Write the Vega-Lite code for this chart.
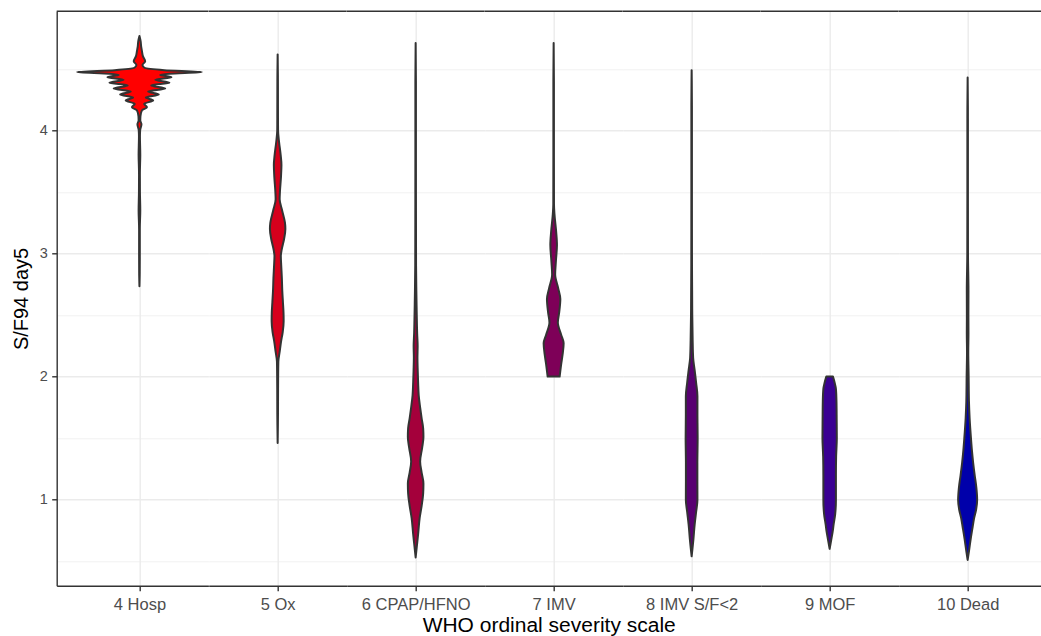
{
  "$schema": "https://vega.github.io/schema/vega-lite/v6.json",
  "background": "white",
  "padding": {"left": 10.7, "top": 10.3, "right": 0, "bottom": 0},
  "spacing": 0,
  "bounds": "flush",
  "config": {
    "view": {"stroke": null},
    "font": "Liberation Sans",
    "axis": {"gridColor": "#EBEBEB", "domainColor": "#333333", "tickColor": "#333333", "labelColor": "#4D4D4D", "titleColor": "#000000", "titleFontWeight": "normal", "labelFont": "Liberation Sans", "titleFont": "Liberation Sans", "labelOverlap": false, "labelFlush": false}
  },
  "resolve": {"scale": {"x": "independent", "y": "independent"}},
  "data": {"values": [
    {"g":"4 Hosp","v":4.767,"w":0},{"g":"4 Hosp","v":4.726,"w":0.017},{"g":"4 Hosp","v":4.68,"w":0.025},{"g":"4 Hosp","v":4.645,"w":0.036},{"g":"4 Hosp","v":4.604,"w":0.05},{"g":"4 Hosp","v":4.563,"w":0.083},{"g":"4 Hosp","v":4.531,"w":0.044},{"g":"4 Hosp","v":4.509,"w":0.073},{"g":"4 Hosp","v":4.49,"w":0.36},{"g":"4 Hosp","v":4.474,"w":0.906},{"g":"4 Hosp","v":4.46,"w":0.435},{"g":"4 Hosp","v":4.45,"w":0.30},{"g":"4 Hosp","v":4.433,"w":0.464},{"g":"4 Hosp","v":4.411,"w":0.23},{"g":"4 Hosp","v":4.387,"w":0.435},{"g":"4 Hosp","v":4.366,"w":0.17},{"g":"4 Hosp","v":4.341,"w":0.374},{"g":"4 Hosp","v":4.317,"w":0.126},{"g":"4 Hosp","v":4.293,"w":0.28},{"g":"4 Hosp","v":4.268,"w":0.092},{"g":"4 Hosp","v":4.244,"w":0.199},{"g":"4 Hosp","v":4.216,"w":0.068},{"g":"4 Hosp","v":4.189,"w":0.109},{"g":"4 Hosp","v":4.163,"w":0.036},{"g":"4 Hosp","v":4.116,"w":0.0145},{"g":"4 Hosp","v":4.08,"w":0.012},{"g":"4 Hosp","v":4.05,"w":0.029},{"g":"4 Hosp","v":4.0,"w":0.01},{"g":"4 Hosp","v":3.95,"w":0.007},{"g":"4 Hosp","v":3.8,"w":0.012},{"g":"4 Hosp","v":3.65,"w":0.006},{"g":"4 Hosp","v":3.5,"w":0.007},{"g":"4 Hosp","v":3.35,"w":0.012},{"g":"4 Hosp","v":3.2,"w":0.005},{"g":"4 Hosp","v":3.0,"w":0.005},{"g":"4 Hosp","v":2.85,"w":0.004},{"g":"4 Hosp","v":2.734,"w":0},
    {"g":"5 Ox","v":4.618,"w":0},{"g":"5 Ox","v":4.4,"w":0.004},{"g":"5 Ox","v":4.1,"w":0.005},{"g":"5 Ox","v":4.0,"w":0.006},{"g":"5 Ox","v":3.9,"w":0.022},{"g":"5 Ox","v":3.8,"w":0.044},{"g":"5 Ox","v":3.72,"w":0.055},{"g":"5 Ox","v":3.62,"w":0.048},{"g":"5 Ox","v":3.5,"w":0.033},{"g":"5 Ox","v":3.44,"w":0.029},{"g":"5 Ox","v":3.35,"w":0.065},{"g":"5 Ox","v":3.25,"w":0.106},{"g":"5 Ox","v":3.2,"w":0.112},{"g":"5 Ox","v":3.12,"w":0.094},{"g":"5 Ox","v":3.03,"w":0.058},{"g":"5 Ox","v":2.98,"w":0.046},{"g":"5 Ox","v":2.9,"w":0.052},{"g":"5 Ox","v":2.8,"w":0.061},{"g":"5 Ox","v":2.7,"w":0.067},{"g":"5 Ox","v":2.6,"w":0.077},{"g":"5 Ox","v":2.52,"w":0.085},{"g":"5 Ox","v":2.45,"w":0.087},{"g":"5 Ox","v":2.36,"w":0.073},{"g":"5 Ox","v":2.29,"w":0.051},{"g":"5 Ox","v":2.2,"w":0.029},{"g":"5 Ox","v":2.12,"w":0.01},{"g":"5 Ox","v":1.9,"w":0.006},{"g":"5 Ox","v":1.7,"w":0.005},{"g":"5 Ox","v":1.46,"w":0},
    {"g":"6 CPAP/HFNO","v":4.71,"w":0},{"g":"6 CPAP/HFNO","v":4.4,"w":0.004},{"g":"6 CPAP/HFNO","v":3.8,"w":0.004},{"g":"6 CPAP/HFNO","v":3.2,"w":0.005},{"g":"6 CPAP/HFNO","v":2.9,"w":0.006},{"g":"6 CPAP/HFNO","v":2.7,"w":0.01},{"g":"6 CPAP/HFNO","v":2.5,"w":0.016},{"g":"6 CPAP/HFNO","v":2.35,"w":0.022},{"g":"6 CPAP/HFNO","v":2.25,"w":0.029},{"g":"6 CPAP/HFNO","v":2.15,"w":0.026},{"g":"6 CPAP/HFNO","v":2.05,"w":0.03},{"g":"6 CPAP/HFNO","v":1.95,"w":0.036},{"g":"6 CPAP/HFNO","v":1.85,"w":0.044},{"g":"6 CPAP/HFNO","v":1.75,"w":0.065},{"g":"6 CPAP/HFNO","v":1.66,"w":0.087},{"g":"6 CPAP/HFNO","v":1.58,"w":0.109},{"g":"6 CPAP/HFNO","v":1.51,"w":0.113},{"g":"6 CPAP/HFNO","v":1.42,"w":0.094},{"g":"6 CPAP/HFNO","v":1.31,"w":0.065},{"g":"6 CPAP/HFNO","v":1.22,"w":0.087},{"g":"6 CPAP/HFNO","v":1.13,"w":0.113},{"g":"6 CPAP/HFNO","v":1.05,"w":0.109},{"g":"6 CPAP/HFNO","v":0.95,"w":0.087},{"g":"6 CPAP/HFNO","v":0.85,"w":0.058},{"g":"6 CPAP/HFNO","v":0.72,"w":0.036},{"g":"6 CPAP/HFNO","v":0.62,"w":0.017},{"g":"6 CPAP/HFNO","v":0.53,"w":0},
    {"g":"7 IMV","v":4.71,"w":0},{"g":"7 IMV","v":4.4,"w":0.004},{"g":"7 IMV","v":3.8,"w":0.004},{"g":"7 IMV","v":3.4,"w":0.005},{"g":"7 IMV","v":3.32,"w":0.012},{"g":"7 IMV","v":3.18,"w":0.036},{"g":"7 IMV","v":3.07,"w":0.048},{"g":"7 IMV","v":2.94,"w":0.033},{"g":"7 IMV","v":2.83,"w":0.022},{"g":"7 IMV","v":2.72,"w":0.065},{"g":"7 IMV","v":2.63,"w":0.097},{"g":"7 IMV","v":2.52,"w":0.08},{"g":"7 IMV","v":2.44,"w":0.061},{"g":"7 IMV","v":2.34,"w":0.109},{"g":"7 IMV","v":2.27,"w":0.145},{"g":"7 IMV","v":2.18,"w":0.13},{"g":"7 IMV","v":2.1,"w":0.109},{"g":"7 IMV","v":2.0,"w":0.087},
    {"g":"8 IMV S/F<2","v":4.49,"w":0},{"g":"8 IMV S/F<2","v":4.2,"w":0.004},{"g":"8 IMV S/F<2","v":3.5,"w":0.004},{"g":"8 IMV S/F<2","v":2.9,"w":0.005},{"g":"8 IMV S/F<2","v":2.7,"w":0.007},{"g":"8 IMV S/F<2","v":2.5,"w":0.009},{"g":"8 IMV S/F<2","v":2.3,"w":0.0145},{"g":"8 IMV S/F<2","v":2.15,"w":0.022},{"g":"8 IMV S/F<2","v":2.05,"w":0.044},{"g":"8 IMV S/F<2","v":1.95,"w":0.065},{"g":"8 IMV S/F<2","v":1.84,"w":0.084},{"g":"8 IMV S/F<2","v":1.7,"w":0.084},{"g":"8 IMV S/F<2","v":1.5,"w":0.087},{"g":"8 IMV S/F<2","v":1.3,"w":0.083},{"g":"8 IMV S/F<2","v":1.15,"w":0.083},{"g":"8 IMV S/F<2","v":1.0,"w":0.084},{"g":"8 IMV S/F<2","v":0.9,"w":0.065},{"g":"8 IMV S/F<2","v":0.8,"w":0.044},{"g":"8 IMV S/F<2","v":0.68,"w":0.026},{"g":"8 IMV S/F<2","v":0.54,"w":0},
    {"g":"9 MOF","v":2.0,"w":0.048},{"g":"9 MOF","v":1.95,"w":0.073},{"g":"9 MOF","v":1.9,"w":0.091},{"g":"9 MOF","v":1.8,"w":0.099},{"g":"9 MOF","v":1.65,"w":0.102},{"g":"9 MOF","v":1.5,"w":0.104},{"g":"9 MOF","v":1.35,"w":0.094},{"g":"9 MOF","v":1.2,"w":0.091},{"g":"9 MOF","v":1.0,"w":0.091},{"g":"9 MOF","v":0.88,"w":0.08},{"g":"9 MOF","v":0.8,"w":0.058},{"g":"9 MOF","v":0.74,"w":0.044},{"g":"9 MOF","v":0.67,"w":0.022},{"g":"9 MOF","v":0.6,"w":0},
    {"g":"10 Dead","v":4.43,"w":0},{"g":"10 Dead","v":4.1,"w":0.004},{"g":"10 Dead","v":3.5,"w":0.004},{"g":"10 Dead","v":3.0,"w":0.005},{"g":"10 Dead","v":2.7,"w":0.012},{"g":"10 Dead","v":2.5,"w":0.011},{"g":"10 Dead","v":2.35,"w":0.012},{"g":"10 Dead","v":2.2,"w":0.009},{"g":"10 Dead","v":2.0,"w":0.0145},{"g":"10 Dead","v":1.8,"w":0.019},{"g":"10 Dead","v":1.66,"w":0.029},{"g":"10 Dead","v":1.5,"w":0.048},{"g":"10 Dead","v":1.4,"w":0.062},{"g":"10 Dead","v":1.3,"w":0.08},{"g":"10 Dead","v":1.2,"w":0.102},{"g":"10 Dead","v":1.1,"w":0.126},{"g":"10 Dead","v":1.0,"w":0.138},{"g":"10 Dead","v":0.92,"w":0.123},{"g":"10 Dead","v":0.85,"w":0.094},{"g":"10 Dead","v":0.78,"w":0.073},{"g":"10 Dead","v":0.68,"w":0.044},{"g":"10 Dead","v":0.58,"w":0.019},{"g":"10 Dead","v":0.51,"w":0}
  ]},
  "hconcat": [
    {"width": 151.7, "height": 574.4, "layer": [
      {"transform": [{"filter": "datum.g === '4 Hosp'"}],
       "mark": {"type": "area", "orient": "horizontal", "interpolate": "monotone", "fill": "#FF0000", "stroke": "#333333", "strokeWidth": 2, "strokeJoin": "round"},
       "encoding": {
         "y": {"field": "v", "type": "quantitative", "scale": {"domain": [0.301, 4.968], "nice": false, "zero": false},
               "axis": {"values": [0.5,1,1.5,2,2.5,3,3.5,4,4.5], "title": "S/F94 day5", "titleFontSize": 20, "titlePadding": 8.1, "labelExpr": "datum.value % 1 === 0 ? '' + datum.value : ''", "labelFontSize": 14.5, "labelPadding": 4.4, "tickSize": 5, "tickWidth": 1.4, "tickOpacity": {"condition": {"test": "datum.value % 1 === 0", "value": 1}, "value": 0}, "domainWidth": 1.4, "grid": true, "gridWidth": {"condition": {"test": "datum.value % 1 === 0", "value": 1.4}, "value": 0.7}}},
         "x": {"field": "w", "type": "quantitative", "stack": "center", "scale": {"domain": [-0.147, 0.953], "nice": false, "zero": false},
               "axis": {"values": [0.453], "labelExpr": "'4 Hosp'", "title": null, "grid": true, "gridWidth": 1.4, "tickSize": 5, "tickWidth": 1.4, "labelFontSize": 16.5, "labelPadding": 5.4, "domainWidth": 1.4}}}},
      {"data": {"values": [{}]}, "mark": {"type": "rule", "color": "#333333", "strokeWidth": 1.4}, "encoding": {"y": {"datum": 4.968}}}
    ]},
    {"width": 137.9, "height": 574.4, "layer": [
      {"transform": [{"filter": "datum.g === '5 Ox'"}],
       "mark": {"type": "area", "orient": "horizontal", "interpolate": "monotone", "fill": "#D6001C", "stroke": "#333333", "strokeWidth": 2, "strokeJoin": "round"},
       "encoding": {
         "y": {"field": "v", "type": "quantitative", "scale": {"domain": [0.301, 4.968], "nice": false, "zero": false},
               "axis": {"values": [0.5,1,1.5,2,2.5,3,3.5,4,4.5], "labels": false, "ticks": false, "domain": false, "title": null, "grid": true, "gridWidth": {"condition": {"test": "datum.value % 1 === 0", "value": 1.4}, "value": 0.7}}},
         "x": {"field": "w", "type": "quantitative", "stack": "center", "scale": {"domain": [-0.444, 0.556], "nice": false, "zero": false},
               "axis": {"values": [0.056], "labelExpr": "'5 Ox'", "title": null, "grid": true, "gridWidth": 1.4, "tickSize": 5, "tickWidth": 1.4, "labelFontSize": 16.5, "labelPadding": 5.4, "domainWidth": 1.4}}}},
      {"data": {"values": [{}]}, "mark": {"type": "rule", "color": "#333333", "strokeWidth": 1.4}, "encoding": {"y": {"datum": 4.968}}}
    ]},
    {"width": 137.9, "height": 574.4, "layer": [
      {"transform": [{"filter": "datum.g === '6 CPAP/HFNO'"}],
       "mark": {"type": "area", "orient": "horizontal", "interpolate": "monotone", "fill": "#A4003B", "stroke": "#333333", "strokeWidth": 2, "strokeJoin": "round"},
       "encoding": {
         "y": {"field": "v", "type": "quantitative", "scale": {"domain": [0.301, 4.968], "nice": false, "zero": false},
               "axis": {"values": [0.5,1,1.5,2,2.5,3,3.5,4,4.5], "labels": false, "ticks": false, "domain": false, "title": null, "grid": true, "gridWidth": {"condition": {"test": "datum.value % 1 === 0", "value": 1.4}, "value": 0.7}}},
         "x": {"field": "w", "type": "quantitative", "stack": "center", "scale": {"domain": [-0.4435, 0.5565], "nice": false, "zero": false},
               "axis": {"values": [0.0565], "labelExpr": "'6 CPAP/HFNO'", "title": null, "grid": true, "gridWidth": 1.4, "tickSize": 5, "tickWidth": 1.4, "labelFontSize": 16.5, "labelPadding": 5.4, "domainWidth": 1.4}}}},
      {"data": {"values": [{}]}, "mark": {"type": "rule", "color": "#333333", "strokeWidth": 1.4}, "encoding": {"y": {"datum": 4.968}}}
    ]},
    {"width": 137.9, "height": 574.4, "layer": [
      {"transform": [{"filter": "datum.g === '7 IMV'"}],
       "mark": {"type": "area", "orient": "horizontal", "interpolate": "monotone", "fill": "#7E0058", "stroke": "#333333", "strokeWidth": 2, "strokeJoin": "round"},
       "encoding": {
         "y": {"field": "v", "type": "quantitative", "scale": {"domain": [0.301, 4.968], "nice": false, "zero": false},
               "axis": {"values": [0.5,1,1.5,2,2.5,3,3.5,4,4.5], "labels": false, "ticks": false, "domain": false, "title": null, "grid": true, "gridWidth": {"condition": {"test": "datum.value % 1 === 0", "value": 1.4}, "value": 0.7}}},
         "x": {"field": "w", "type": "quantitative", "stack": "center", "scale": {"domain": [-0.4275, 0.5725], "nice": false, "zero": false},
               "axis": {"values": [0.0725], "labelExpr": "'7 IMV'", "title": "WHO ordinal severity scale", "titleFontSize": 21, "titlePadding": 1.5, "titleX": 64, "grid": true, "gridWidth": 1.4, "tickSize": 5, "tickWidth": 1.4, "labelFontSize": 16.5, "labelPadding": 5.4, "domainWidth": 1.4}}}},
      {"data": {"values": [{}]}, "mark": {"type": "rule", "color": "#333333", "strokeWidth": 1.4}, "encoding": {"y": {"datum": 4.968}}}
    ]},
    {"width": 137.9, "height": 574.4, "layer": [
      {"transform": [{"filter": "datum.g === '8 IMV S/F<2'"}],
       "mark": {"type": "area", "orient": "horizontal", "interpolate": "monotone", "fill": "#580071", "stroke": "#333333", "strokeWidth": 2, "strokeJoin": "round"},
       "encoding": {
         "y": {"field": "v", "type": "quantitative", "scale": {"domain": [0.301, 4.968], "nice": false, "zero": false},
               "axis": {"values": [0.5,1,1.5,2,2.5,3,3.5,4,4.5], "labels": false, "ticks": false, "domain": false, "title": null, "grid": true, "gridWidth": {"condition": {"test": "datum.value % 1 === 0", "value": 1.4}, "value": 0.7}}},
         "x": {"field": "w", "type": "quantitative", "stack": "center", "scale": {"domain": [-0.4565, 0.5435], "nice": false, "zero": false},
               "axis": {"values": [0.0435], "labelExpr": "'8 IMV S/F<2'", "title": null, "grid": true, "gridWidth": 1.4, "tickSize": 5, "tickWidth": 1.4, "labelFontSize": 16.5, "labelPadding": 5.4, "domainWidth": 1.4}}}},
      {"data": {"values": [{}]}, "mark": {"type": "rule", "color": "#333333", "strokeWidth": 1.4}, "encoding": {"y": {"datum": 4.968}}}
    ]},
    {"width": 137.9, "height": 574.4, "layer": [
      {"transform": [{"filter": "datum.g === '9 MOF'"}],
       "mark": {"type": "area", "orient": "horizontal", "interpolate": "monotone", "fill": "#3A0092", "stroke": "#333333", "strokeWidth": 2, "strokeJoin": "round"},
       "encoding": {
         "y": {"field": "v", "type": "quantitative", "scale": {"domain": [0.301, 4.968], "nice": false, "zero": false},
               "axis": {"values": [0.5,1,1.5,2,2.5,3,3.5,4,4.5], "labels": false, "ticks": false, "domain": false, "title": null, "grid": true, "gridWidth": {"condition": {"test": "datum.value % 1 === 0", "value": 1.4}, "value": 0.7}}},
         "x": {"field": "w", "type": "quantitative", "stack": "center", "scale": {"domain": [-0.448, 0.552], "nice": false, "zero": false},
               "axis": {"values": [0.052], "labelExpr": "'9 MOF'", "title": null, "grid": true, "gridWidth": 1.4, "tickSize": 5, "tickWidth": 1.4, "labelFontSize": 16.5, "labelPadding": 5.4, "domainWidth": 1.4}}}},
      {"data": {"values": [{}]}, "mark": {"type": "rule", "color": "#333333", "strokeWidth": 1.4}, "encoding": {"y": {"datum": 4.968}}}
    ]},
    {"width": 151.7, "height": 574.4, "layer": [
      {"transform": [{"filter": "datum.g === '10 Dead'"}],
       "mark": {"type": "area", "orient": "horizontal", "interpolate": "monotone", "fill": "#0000AA", "stroke": "#333333", "strokeWidth": 2, "strokeJoin": "round"},
       "encoding": {
         "y": {"field": "v", "type": "quantitative", "scale": {"domain": [0.301, 4.968], "nice": false, "zero": false},
               "axis": {"values": [0.5,1,1.5,2,2.5,3,3.5,4,4.5], "labels": false, "ticks": false, "domain": false, "title": null, "grid": true, "gridWidth": {"condition": {"test": "datum.value % 1 === 0", "value": 1.4}, "value": 0.7}}},
         "x": {"field": "w", "type": "quantitative", "stack": "center", "scale": {"domain": [-0.431, 0.669], "nice": false, "zero": false},
               "axis": {"values": [0.069], "labelExpr": "'10 Dead'", "title": null, "grid": true, "gridWidth": 1.4, "tickSize": 5, "tickWidth": 1.4, "labelFontSize": 16.5, "labelPadding": 5.4, "domainWidth": 1.4}}}},
      {"data": {"values": [{}]}, "mark": {"type": "rule", "color": "#333333", "strokeWidth": 1.4}, "encoding": {"y": {"datum": 4.968}}}
    ]}
  ]
}
